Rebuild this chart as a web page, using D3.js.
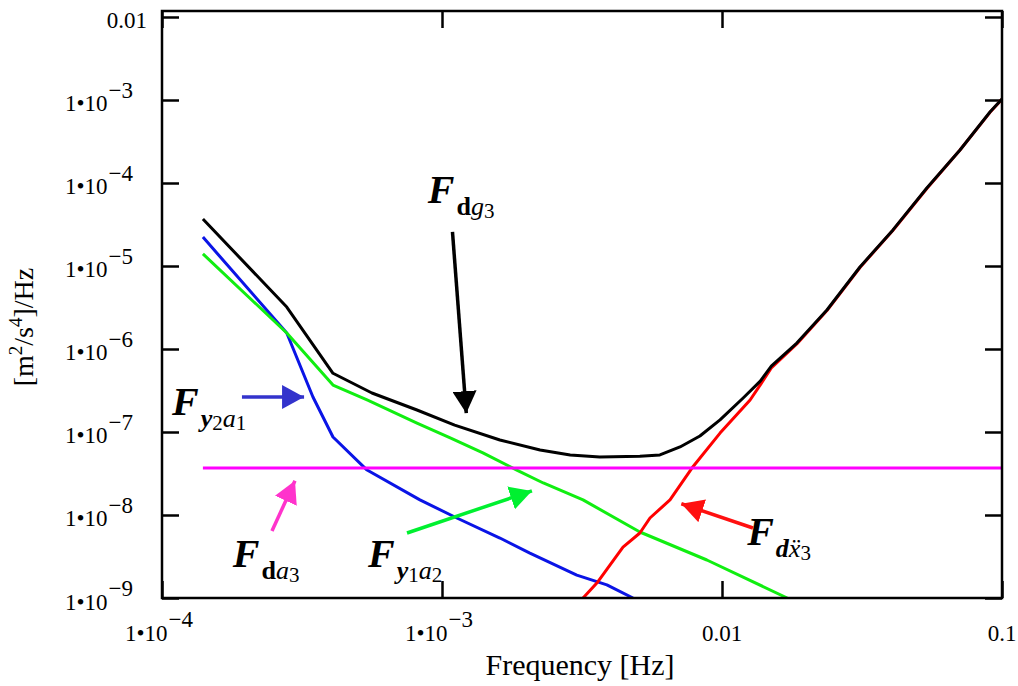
<!DOCTYPE html>
<html>
<head>
<meta charset="utf-8">
<script src="https://cdn.jsdelivr.net/npm/d3@7"></script>
<style>
  body { margin: 0; background: #fff; }
  svg text, svg tspan { font-family: 'Liberation Serif', 'Times New Roman', Times, serif !important; fill: #000; }
</style>
</head>
<body>
<svg id="chart" width="1018" height="686" font-family="Liberation Serif"></svg>
<script>
// tick values
const xTicks = [1e-4, 1e-3, 1e-2, 1e-1]
const yTicks = [1e-9, 1e-8, 1e-7, 1e-6, 1e-5, 1e-4, 1e-3, 1e-2]

// F_dg3 (total, black)
const fdg3Freq = [1.40e-4, 2.79e-4, 4.08e-4, 5.62e-4, 8.14e-4, 1.11e-3, 1.61e-3, 2.24e-3, 2.87e-3, 3.66e-3, 5.09e-3, 6.0e-3, 7.08e-3, 8.34e-3, 9.84e-3, 1.19e-2, 1.37e-2, 1.5e-2, 1.85e-2, 2.37e-2, 3.11e-2, 4.08e-2, 5.39e-2, 7.08e-2, 9.06e-2, 0.1]
const fdg3Val = [3.68e-5, 3.2e-6, 5.1e-7, 2.95e-7, 1.84e-7, 1.21e-7, 8.0e-8, 6.07e-8, 5.28e-8, 5.0e-8, 5.1e-8, 5.3e-8, 6.6e-8, 8.95e-8, 1.40e-7, 2.57e-7, 4.1e-7, 6.2e-7, 1.18e-6, 2.95e-6, 9.73e-6, 2.72e-5, 8.7e-5, 2.5e-4, 7.16e-4, 1.03e-3]

// F_dx3 (red)
const fdx3Freq = [3.19e-3, 3.6e-3, 4.43e-3, 5.09e-3, 5.53e-3, 6.52e-3, 7.81e-3, 9.84e-3, 1.26e-2, 1.37e-2, 1.5e-2, 1.85e-2, 2.37e-2, 3.11e-2, 4.08e-2, 5.39e-2, 7.08e-2, 9.06e-2, 0.1]
const fdx3Val = [1e-9, 1.56e-9, 4.1e-9, 6.07e-9, 9.2e-9, 1.52e-8, 3.68e-8, 9.7e-8, 2.43e-7, 3.7e-7, 5.9e-7, 1.15e-6, 2.9e-6, 9.6e-6, 2.7e-5, 8.6e-5, 2.5e-4, 7.1e-4, 1.02e-3]

// F_y1a2 (green)
const fy1a2Freq = [1.40e-4, 2.79e-4, 4.08e-4, 5.4e-4, 8.14e-4, 1.07e-3, 1.40e-3, 1.85e-3, 2.30e-3, 3.19e-3, 5.09e-3, 8.83e-3, 1.71e-2]
const fy1a2Val = [1.40e-5, 1.56e-6, 3.68e-7, 2.43e-7, 1.28e-7, 8.47e-8, 5.59e-8, 3.48e-8, 2.43e-8, 1.52e-8, 6.24e-9, 2.87e-9, 1e-9]

// F_y2a1 (blue)
const fy2a1Freq = [1.40e-4, 2.79e-4, 3.46e-4, 4.08e-4, 5.4e-4, 8.34e-4, 1.13e-3, 1.61e-3, 2.06e-3, 3.03e-3, 3.88e-3, 4.81e-3]
const fy2a1Val = [2.23e-5, 1.56e-6, 2.64e-7, 8.7e-8, 3.48e-8, 1.52e-8, 9.2e-9, 5.28e-9, 3.48e-9, 1.89e-9, 1.44e-9, 1e-9]

// F_da3 (magenta, flat)
const fda3Freq = [1.40e-4, 0.1]
const fda3Val = [3.68e-8, 3.68e-8]

const config = {
  left: 162,
  right: 1002,
  top: 11,
  bottom: 598,
  tickLen: 17,
  lineWidth: 3,
  font: "'Liberation Serif', 'Times New Roman', Times, serif"
}

const svg = d3.select('#chart')

const x = d3.scaleLog()
  .domain([1e-4, 0.1])
  .range([config.left, config.right])

const y = d3.scaleLog()
  .domain([1e-9, 0.01181])
  .range([config.bottom, config.top])

// tick label pieces
const tickParts = v => {
  const e = Math.round(Math.log10(v))
  if (e >= -2) return { base: String(v) }
  return { base: '1\u202210', exp: '\u2212' + (-e) }
}

// axes, ticks pointing inward
const axes = [
  { axis: d3.axisLeft(y).tickValues(yTicks), t: `translate(${config.left},0)` },
  { axis: d3.axisRight(y).tickValues(yTicks), t: `translate(${config.right},0)` },
  { axis: d3.axisBottom(x).tickValues(xTicks), t: `translate(0,${config.bottom})` },
  { axis: d3.axisTop(x).tickValues(xTicks), t: `translate(0,${config.top})` }
]
axes.forEach(a => {
  const g = svg.append('g')
    .attr('transform', a.t)
    .call(a.axis.tickSize(-config.tickLen).tickFormat(''))
  g.select('.domain').remove()
  g.selectAll('.tick line').attr('stroke', '#000').attr('stroke-width', 2.5)
})

// y tick labels
svg.append('g').selectAll('text')
  .data(yTicks)
  .enter()
  .append('text')
  .attr('font-family', config.font)
  .attr('font-size', 23)
  .attr('text-anchor', 'end')
  .attr('transform', d => `translate(${d >= 0.005 ? config.left - 15 : config.left - 29}, ${y(d) + 11.5})`)
  .each(function (d) {
    const p = tickParts(d)
    const t = d3.select(this)
    t.append('tspan').text(p.base)
    if (p.exp) t.append('tspan').attr('dx', 1).attr('dy', -13.5).text(p.exp)
  })

// x tick labels
svg.append('g').selectAll('text')
  .data(xTicks)
  .enter()
  .append('text')
  .attr('font-family', config.font)
  .attr('font-size', 23)
  .attr('text-anchor', 'middle')
  .attr('transform', d => `translate(${x(d) + (d < 0.005 ? -3 : 0)}, 641)`)
  .each(function (d) {
    const p = tickParts(d)
    const t = d3.select(this)
    t.append('tspan').text(p.base)
    if (p.exp) t.append('tspan').attr('dx', 1).attr('dy', -14).text(p.exp)
  })

// axis titles
svg.append('text')
  .attr('x', 580)
  .attr('y', 675)
  .attr('font-family', config.font)
  .attr('font-size', 30)
  .attr('text-anchor', 'middle')
  .text('Frequency [Hz]')

const yTitle = svg.append('text')
  .attr('transform', 'translate(33,327) rotate(-90)')
  .attr('font-family', config.font)
  .attr('font-size', 28)
  .attr('text-anchor', 'middle')
yTitle.append('tspan').text('[m')
yTitle.append('tspan').attr('font-size', 19).attr('dy', -11).text('2')
yTitle.append('tspan').attr('dy', 11).text('/s')
yTitle.append('tspan').attr('font-size', 19).attr('dy', -11).text('4')
yTitle.append('tspan').attr('dy', 11).text(']/Hz')

// curves
svg.append('clipPath').attr('id', 'plotClip')
  .append('rect')
  .attr('x', config.left).attr('y', config.top - 2)
  .attr('width', config.right - config.left + 2)
  .attr('height', config.bottom - config.top + 2)

const line = d3.line()
  .x(d => x(d[0]))
  .y(d => y(d[1]))

const series = [
  { freq: fy2a1Freq, val: fy2a1Val, color: '#0a14e6' },
  { freq: fy1a2Freq, val: fy1a2Val, color: '#11ee11' },
  { freq: fdx3Freq, val: fdx3Val, color: '#ff0000' },
  { freq: fdg3Freq, val: fdg3Val, color: '#000000' },
  { freq: fda3Freq, val: fda3Val, color: '#ff00ff' }
]

const plot = svg.append('g').attr('clip-path', 'url(#plotClip)')
plot.selectAll('.curve')
  .data(series)
  .enter()
  .append('path')
  .attr('class', 'curve')
  .attr('fill', 'none')
  .attr('stroke', d => d.color)
  .attr('stroke-width', config.lineWidth)
  .attr('stroke-linejoin', 'round')
  .attr('d', d => line(d.freq.map((f, i) => [f, d.val[i]])))

// frame
svg.append('rect')
  .attr('x', config.left)
  .attr('y', config.top)
  .attr('width', config.right - config.left)
  .attr('height', config.bottom - config.top)
  .attr('fill', 'none')
  .attr('stroke', '#000')
  .attr('stroke-width', 2.5)

// annotations: arrows from label to curve, all in data coordinates
const notes = [
  { from: [1.09e-3, 2.57e-5], to: [1.23e-3, 1.21e-7], color: '#000000',
    at: [8.9e-4, 5.74e-5], sub: [['d', 'bold', 'normal'], ['g', 'normal', 'italic'], ['3']] },
  { from: [1.93e-4, 2.64e-7], to: [3.55e-4, 2.64e-7], color: '#3333cc',
    at: [1.086e-4, 1.60e-7], sub: [['y', 'bold', 'italic'], ['2'], ['a', 'normal', 'italic'], ['1']] },
  { from: [2.47e-4, 6.41e-9], to: [3.11e-4, 3.5e-8], color: '#ff33cc',
    at: [1.79e-4, 2.36e-9], sub: [['d', 'bold', 'normal'], ['a', 'normal', 'italic'], ['3']] },
  { from: [7.5e-4, 6.07e-9], to: [2.30e-3, 2.17e-8], color: '#00f030',
    at: [5.44e-4, 2.36e-9], sub: [['y', 'bold', 'italic'], ['1'], ['a', 'normal', 'italic'], ['2']] },
  { from: [1.29e-2, 6.97e-9], to: [6.52e-3, 1.52e-8], color: '#ff1010',
    at: [1.23e-2, 4.35e-9], sub: [['d', 'bold', 'italic'], ['\u1E8D', 'normal', 'italic'], ['3']] }
]

const defs = svg.append('defs')
notes.forEach((n, i) => {
  defs.append('marker')
    .attr('id', 'head' + i)
    .attr('markerUnits', 'userSpaceOnUse')
    .attr('viewBox', '0 0 22 24')
    .attr('markerWidth', 22)
    .attr('markerHeight', 24)
    .attr('refX', 22)
    .attr('refY', 12)
    .attr('orient', 'auto')
    .append('path')
    .attr('d', 'M0,0 L22,12 L0,24 Z')
    .attr('fill', n.color)
})

const noteG = svg.append('g')
notes.forEach((n, i) => {
  // shorten the stroke so it ends under the arrow head
  const x1 = x(n.from[0]), y1 = y(n.from[1]), x2 = x(n.to[0]), y2 = y(n.to[1])
  const len = Math.hypot(x2 - x1, y2 - y1)
  const k = (len - 12) / len
  noteG.append('line')
    .attr('x1', x1).attr('y1', y1)
    .attr('x2', x1 + (x2 - x1) * k).attr('y2', y1 + (y2 - y1) * k)
    .attr('stroke', n.color)
    .attr('stroke-width', 3.5)
    .attr('marker-end', `url(#head${i})`)

  const t = noteG.append('text')
    .attr('font-family', config.font)
    .attr('x', x(n.at[0]))
    .attr('y', y(n.at[1]))
  t.append('tspan')
    .attr('font-size', 40)
    .attr('font-weight', 'bold')
    .attr('font-style', 'italic')
    .text('F')
  n.sub.forEach((s, j) => {
    const isDigit = s.length === 1
    const dy = (j === 0 ? 12 : 0) + (isDigit ? 3 : 0) - (j > 0 && n.sub[j - 1].length === 1 ? 3 : 0)
    t.append('tspan')
      .attr('dx', j === 0 ? 2 : 0)
      .attr('dy', dy)
      .attr('font-size', isDigit ? 21 : 26)
      .attr('font-weight', isDigit ? 'normal' : s[1])
      .attr('font-style', isDigit ? 'normal' : s[2])
      .text(s[0])
  })
})
</script>
</body>
</html>
